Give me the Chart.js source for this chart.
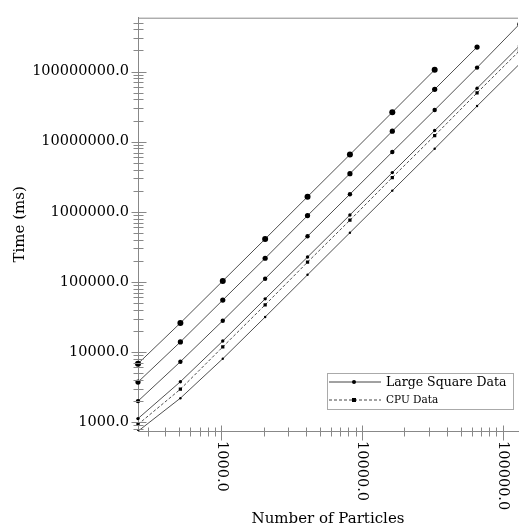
<!DOCTYPE html>
<html>
<head>
<meta charset="utf-8">
<script src="https://cdn.jsdelivr.net/npm/chart.js@4.4.1/dist/chart.umd.min.js"></script>
<style>
  html, body { margin: 0; padding: 0; background: #fff; }
</style>
</head>
<body>
<canvas id="chart" width="521" height="532"></canvas>
<script>
const particles = [256, 512, 1024, 2048, 4096, 8192, 16384, 32768, 65536, 131072];
const large1 = [6800, 25900, 103000, 409000, 1640000, 6540000, 26300000, 106000000];
const large2 = [3720, 13900, 55000, 217000, 881000, 3500000, 14100000, 55800000, 224000000];
const large3 = [1990, 7260, 27900, 111000, 447000, 1780000, 7130000, 28300000, 114000000, 475000000];
const large4 = [1120, 3760, 14300, 57200, 226000, 900000, 3620000, 14400000, 57700000, 232000000];
const cpuTimes = [925, 2940, 11800, 47000, 191000, 757000, 3080000, 12200000, 49700000, 198000000];
const large6 = [740, 2190, 8000, 31500, 126000, 503000, 2000000, 7940000, 32200000, 128000000];

const xMajorTicks = [1000, 10000, 100000];
const yMajorTicks = [1000, 10000, 100000, 1000000, 10000000, 100000000];
const legendItems = [
    { label: 'Large Square Data', dataset: 0, size: 12.5 },
    { label: 'CPU Data', dataset: 4, size: 10.5 },
];

const SERIF = '"DejaVu Serif", serif';
const AXIS_GRAY = '#888';

// minor ticks at 2..9 of every decade, clipped to the axis range later
function minorTicks(from, to) {
    const out = [];
    for (let d = from; d <= to; d *= 10) {
        for (let k = 2; k <= 9; k++) out.push(k * d);
    }
    return out;
}

function points(values) {
    return values.map((v, i) => ({ x: particles[i], y: v }));
}

function series(label, values, radius, opts) {
    return Object.assign({
        label,
        data: points(values),
        borderColor: '#505050',
        borderWidth: 1,
        pointRadius: radius,
        pointHoverRadius: radius,
        pointBackgroundColor: '#000',
        pointBorderWidth: 0,
        tension: 0,
        clip: { left: 6, top: 0, right: 0, bottom: 0 },
    }, opts || {});
}

const axisDecor = {
    id: 'axisDecor',
    afterDraw(chart) {
        const { ctx, chartArea: a, scales: { x, y } } = chart;
        ctx.save();
        ctx.strokeStyle = AXIS_GRAY;
        ctx.lineWidth = 1;
        ctx.beginPath();
        ctx.moveTo(a.left, a.top + 0.5);
        ctx.lineTo(a.right, a.top + 0.5);

        const yl = Math.round(a.left) + 0.5;
        minorTicks(100, 100000000).forEach(v => {
            if (v < y.min || v > y.max) return;
            const p = Math.round(y.getPixelForValue(v)) + 0.5;
            ctx.moveTo(yl - 5, p); ctx.lineTo(yl + 5, p);
        });
        yMajorTicks.forEach(v => {
            const p = Math.round(y.getPixelForValue(v)) + 0.5;
            ctx.moveTo(yl - 7, p); ctx.lineTo(yl + 8, p);
        });

        const xb = Math.round(a.bottom) + 0.5;
        minorTicks(100, 100000).forEach(v => {
            if (v < x.min || v > x.max) return;
            const p = Math.round(x.getPixelForValue(v)) + 0.5;
            ctx.moveTo(p, xb - 4); ctx.lineTo(p, xb + 5);
        });
        xMajorTicks.forEach(v => {
            const p = Math.round(x.getPixelForValue(v)) + 0.5;
            ctx.moveTo(p, xb - 6); ctx.lineTo(p, xb + 9);
        });
        ctx.stroke();

        // x tick labels read top to bottom
        ctx.fillStyle = '#000';
        ctx.font = '14.5px ' + SERIF;
        ctx.textAlign = 'left';
        ctx.textBaseline = 'middle';
        xMajorTicks.forEach(v => {
            ctx.save();
            ctx.translate(x.getPixelForValue(v), a.bottom + 10);
            ctx.rotate(Math.PI / 2);
            ctx.fillText(v.toFixed(1), 0, 0);
            ctx.restore();
        });

        // legend box
        const bx = 327, by = 373, bw = 186, bh = 36;
        ctx.fillStyle = '#fff';
        ctx.fillRect(bx, by, bw, bh);
        ctx.strokeStyle = '#aaa';
        ctx.strokeRect(bx + 0.5, by + 0.5, bw, bh);
        legendItems.forEach((item, i) => {
            const ds = chart.data.datasets[item.dataset];
            const ly = by + 9 + i * 18;
            ctx.strokeStyle = '#444';
            ctx.setLineDash(ds.borderDash || []);
            ctx.beginPath();
            ctx.moveTo(bx + 2, ly);
            ctx.lineTo(bx + 54, ly);
            ctx.stroke();
            ctx.setLineDash([]);
            ctx.fillStyle = '#000';
            if (ds.pointStyle === 'rect') {
                ctx.fillRect(bx + 25, ly - 2, 4, 4);
            } else {
                ctx.beginPath();
                ctx.arc(bx + 27, ly, 2, 0, Math.PI * 2);
                ctx.fill();
            }
            ctx.font = item.size + 'px ' + SERIF;
            ctx.textBaseline = 'middle';
            ctx.fillText(item.label, bx + 59, ly + 0.5);
        });
        ctx.restore();
    }
};

new Chart(document.getElementById('chart'), {
    type: 'line',
    data: {
        datasets: [
            series('Large Square Data', large1, 3),
            series('Large Square Data 2', large2, 2.6),
            series('Large Square Data 3', large3, 2.2),
            series('Large Square Data 4', large4, 1.7),
            series('CPU Data', cpuTimes, 2.3, { pointStyle: 'rect', borderDash: [3, 2] }),
            series('Large Square Data 6', large6, 1.2),
        ],
    },
    options: {
        responsive: false,
        animation: false,
        layout: { padding: { left: 0, top: 11, right: 0, bottom: 0 } },
        plugins: { legend: { display: false }, tooltip: { enabled: false } },
        scales: {
            x: {
                type: 'logarithmic',
                min: 256,
                max: 128000,
                grid: { display: false, drawTicks: false },
                border: { display: true, color: AXIS_GRAY, width: 1 },
                ticks: { display: false },
                title: {
                    display: true, text: 'Number of Particles', color: '#000',
                    font: { family: SERIF, size: 15 }, padding: { top: 0, bottom: 4 },
                },
                afterFit(scale) { scale.height = 101; },
            },
            y: {
                type: 'logarithmic',
                min: 745,
                max: 587000000,
                grid: { display: false, drawTicks: false },
                border: { display: true, color: AXIS_GRAY, width: 1 },
                afterBuildTicks(scale) { scale.ticks = yMajorTicks.map(v => ({ value: v })); },
                ticks: {
                    color: '#000', padding: 9, autoSkip: false,
                    font: { family: SERIF, size: 14.5 },
                    callback: v => Number(v).toFixed(1),
                },
                title: {
                    display: true, text: 'Time (ms)', color: '#000',
                    font: { family: SERIF, size: 15 }, padding: { top: 11.5, bottom: 0 },
                },
                afterFit(scale) { scale.width = 138; },
            },
        },
    },
    plugins: [axisDecor],
});
</script>
</body>
</html>
